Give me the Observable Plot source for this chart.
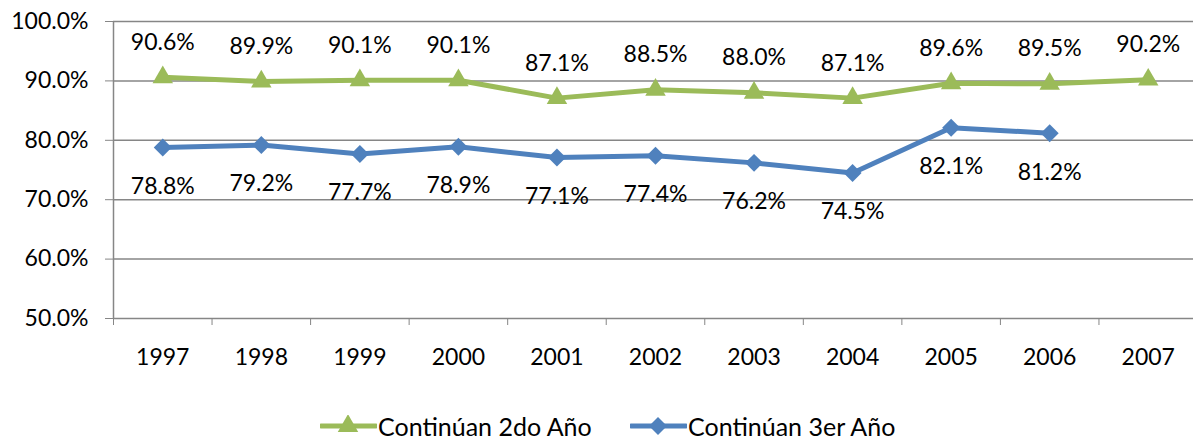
<!DOCTYPE html>
<html>
<head>
<meta charset="utf-8">
<script src="https://cdn.jsdelivr.net/npm/d3@7"></script>
<script src="https://cdn.jsdelivr.net/npm/@observablehq/plot@0.6"></script>
<style>
  body { margin: 0; background: #fff; font-family: Lato, "Open Sans", sans-serif; }
  #chart svg { overflow: visible; display: block; }
  .legend { position: relative; height: 50px; font-size: 25px; color: #000; }
  .legend .item { position: absolute; top: 21px; height: 30px; display: flex; align-items: center; white-space: nowrap; }
</style>
</head>
<body>
<div id="chart"></div>
<div class="legend" id="legend"></div>
<script>
const years = [1997, 1998, 1999, 2000, 2001, 2002, 2003, 2004, 2005, 2006, 2007];
const segundoAno = [90.6, 89.9, 90.1, 90.1, 87.1, 88.5, 88.0, 87.1, 89.6, 89.5, 90.2];
const tercerAno = [78.8, 79.2, 77.7, 78.9, 77.1, 77.4, 76.2, 74.5, 82.1, 81.2, null];
const yTicks = [50, 60, 70, 80, 90, 100];
const seriesNames = ["Continúan 2do Año", "Continúan 3er Año"];
const colors = ["#9BBB59", "#4F81BD"];

const green = years.map((y, i) => ({year: y, v: segundoAno[i]}));
const blue = years.map((y, i) => ({year: y, v: tercerAno[i]})).filter(d => d.v != null);
const boundaries = d3.range(years[0] - 0.5, years[years.length - 1] + 1, 1);
const fmt = v => v.toFixed(1) + "%";

const plot = Plot.plot({
  width: 1193,
  height: 390,
  marginTop: 21,
  marginBottom: 72,
  marginLeft: 113,
  marginRight: 0,
  style: {fontFamily: "Lato, 'Open Sans', sans-serif", fontSize: "23px", color: "#000", background: "#fff"},
  x: {domain: [years[0] - 0.5, years[years.length - 1] + 0.5], range: [113, 1197]},
  y: {domain: [50, 100]},
  marks: [
    Plot.ruleY(yTicks, {x1: years[0] - 0.5, x2: years[years.length - 1] + 0.5, stroke: "#868686", strokeWidth: 1.5}),
    Plot.ruleX([years[0] - 0.5], {y1: 50, y2: 100, stroke: "#868686", strokeWidth: 1.5}),
    Plot.axisY({ticks: yTicks, tickSize: 8, tickPadding: 17, tickFormat: fmt, stroke: "#868686", fontSize: 23, label: null}),
    Plot.axisX({ticks: boundaries, tickSize: 7, tickFormat: () => "", stroke: "#868686", label: null}),
    Plot.axisX({ticks: years, tickSize: 0, tickPadding: 30, tickFormat: d => String(d), fontSize: 23, label: null}),
    Plot.line(green, {x: "year", y: "v", stroke: colors[0], strokeWidth: 5}),
    Plot.line(blue, {x: "year", y: "v", stroke: colors[1], strokeWidth: 5}),
    Plot.dot(green, {x: "year", y: "v", symbol: "triangle", r: 7.6, fill: colors[0], stroke: null}),
    Plot.dot(blue, {x: "year", y: "v", symbol: "diamond2", r: 8.1, fill: colors[1], stroke: null}),
    Plot.text(green, {x: "year", y: "v", text: d => fmt(d.v), dy: -35, fontSize: 23, fill: "#000"}),
    Plot.text(blue, {x: "year", y: "v", text: d => fmt(d.v), dy: 39, fontSize: 23, fill: "#000"})
  ]
});
document.getElementById("chart").appendChild(plot);

const legend = document.getElementById("legend");
const swatch = (color, symbol) => {
  const s = d3.create("svg").attr("width", 57).attr("height", 22);
  s.append("line").attr("x1", 1).attr("x2", 56).attr("y1", 11).attr("y2", 11).attr("stroke", color).attr("stroke-width", 5).attr("stroke-linecap", "round");
  s.append("path").attr("transform", "translate(28,11)").attr("fill", color)
    .attr("d", d3.symbol(symbol, symbol === d3.symbolTriangle ? Math.PI * 7.6 * 7.6 : Math.PI * 8.1 * 8.1)());
  return s.node();
};
const legendLeft = [320, 630];
seriesNames.forEach((name, i) => {
  const item = document.createElement("div");
  item.className = "item";
  item.style.left = legendLeft[i] + "px";
  item.appendChild(swatch(colors[i], i === 0 ? d3.symbolTriangle : d3.symbolDiamond2));
  const t = document.createElement("span");
  t.textContent = name;
  t.style.marginLeft = "1px";
  item.appendChild(t);
  legend.appendChild(item);
});
</script>
</body>
</html>
